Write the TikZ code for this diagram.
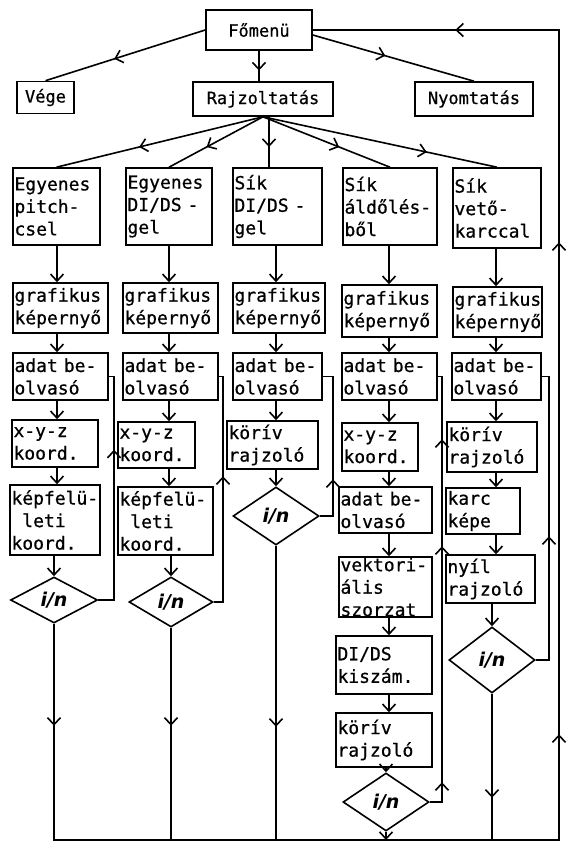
\documentclass[tikz,border=0pt]{standalone}
\usepackage{fontspec}
\newfontfamily\mono[FakeBold=0.7]{DejaVu Sans Mono}
\newfontfamily\handf{DejaVu Sans}
\usetikzlibrary{arrows.meta,shapes.geometric,decorations.markings}

\newcommand\bbox[6]{%
  \pgfmathsetmacro\BXw{#4-#2}%
  \pgfmathsetmacro\BXh{#5-#3}%
  \pgfmathsetmacro\BXt{#4-#2-3}%
  \node[bx,minimum width=\BXw pt,minimum height=\BXh pt,text width=\BXt pt] (#1) at ({(#2+#4)/2},{(#3+#5)/2}) {#6};}

\tikzset{
  >={Straight Barb[length=7pt,width=13pt]},
  bx/.style={draw, rectangle, inner xsep=1.5pt, inner ysep=0pt, align=left,
    font=\mono\fontsize{18}{22.5}\selectfont},
  tb/.style={draw, rectangle, inner sep=0pt, font=\mono\fontsize{17}{20}\selectfont},
  dia/.style={draw, diamond, inner sep=0pt, font=\handf\bfseries\itshape\fontsize{19}{19}\selectfont},
  mid/.style={postaction={decorate},decoration={markings,mark=at position #1 with {\arrow{>}}}},
}

\begin{document}
\begin{tikzpicture}[x=1pt,y=-1pt,line width=1.6pt]
\fill[white] (0,0) rectangle (567,843);
\useasboundingbox (0,0) rectangle (567,843);

% top row
\node[tb,minimum width=106pt,minimum height=40pt] (fomenu) at (259,30) {Főmenü};
\node[tb,minimum width=57pt,minimum height=32pt] (vege) at (45.5,97.5) {Vége};
\node[tb,minimum width=140pt,minimum height=34pt] (rajz) at (263,99) {Rajzoltatás};
\node[tb,minimum width=118pt,minimum height=34pt] (nyom) at (474,99) {Nyomtatás};

% column x coordinates
\coordinate (c1) at (57,0);
\coordinate (c2) at (169,0);
\coordinate (c3) at (276,0);
\coordinate (c3top) at (269,0);
\coordinate (c4) at (389,0);
\coordinate (c5) at (496,0);

% column 1
\bbox{e1}{13}{168}{100}{245}{Egyenes\\pitch-\\csel}
\bbox{g1}{13}{283}{108}{333}{grafikus\\képernyő}
\bbox{a1}{13}{353}{108}{400}{adat~be-\\olvasó}
\bbox{x1}{12}{420}{98}{467}{x-y-z\\koord.}
\bbox{k1}{10}{485}{100}{555}{képfelü-\\\hphantom{k}leti\\koord.}
\node[dia,minimum width=87pt,minimum height=46pt] (d1) at (54,600) {i/n};

% column 2
\bbox{e2}{126}{168}{212}{245}{Egyenes\\DI/DS~-\\gel}
\bbox{g2}{123}{283}{218}{333}{grafikus\\képernyő}
\bbox{a2}{123}{353}{218}{400}{adat~be-\\olvasó}
\bbox{x2}{118}{422}{195}{468}{x-y-z\\koord.}
\bbox{k2}{118}{487}{213}{555}{képfelü-\\\hphantom{k}leti\\koord.}
\node[dia,minimum width=84pt,minimum height=50pt] (d2) at (171,602) {i/n};

% column 3
\bbox{e3}{233}{168}{322}{245}{Sík\\DI/DS~-\\gel}
\bbox{g3}{233}{283}{325}{333}{grafikus\\képernyő}
\bbox{a3}{233}{353}{322}{400}{adat~be-\\olvasó}
\bbox{r3}{227}{421}{318}{469}{körív\\rajzoló}
\node[dia,minimum width=86pt,minimum height=58pt] (d3) at (276,516) {i/n};

% column 4
\bbox{e4}{343}{168}{437}{245}{Sík\\áldőlés-\\ből}
\bbox{g4}{342}{285}{437}{337}{grafikus\\képernyő}
\bbox{a4}{342}{353}{437}{400}{adat~be-\\olvasó}
\bbox{x4}{342}{423}{418}{471}{x-y-z\\koord.}
\bbox{b4}{339}{487}{432}{533}{adat~be-\\olvasó}
\bbox{v4}{339}{557}{432}{617}{vektori-\\ális\\szorzat}
\bbox{s4}{336}{636}{432}{694}{DI/DS\\kiszám.}
\bbox{r4}{336}{713}{432}{767}{körív\\rajzoló}
\node[dia,minimum width=86pt,minimum height=58pt] (d4) at (386,802) {i/n};

% column 5
\bbox{e5}{453}{168}{541}{248}{Sík\\vető-\\karccal}
\bbox{g5}{453}{287}{542}{337}{grafikus\\képernyő}
\bbox{a5}{452}{353}{541}{400}{adat~be-\\olvasó}
\bbox{r5}{447}{422}{537}{472}{körív\\rajzoló}
\bbox{k5}{446}{488}{520}{534}{karc\\képe}
\bbox{n5}{446}{555}{535}{603}{nyíl\\rajzoló}
\node[dia,minimum width=86pt,minimum height=66pt] (d5) at (492,660) {i/n};

% top connectors
\draw[mid=0.57] (fomenu.west) -- (vege.north);
\draw[mid=0.45] ([yshift=-5pt]fomenu.east) -- (nyom.north);
\draw[mid=0.65] (fomenu.south) -- (fomenu.south |- rajz.north);
\draw[mid=0.6] (rajz.south) -- (e1.north);
\draw[mid=0.6] (rajz.south) -- (e2.north);
\draw[mid=0.6] (rajz.south -| c3top) -- (e3.north -| c3top);
\draw[mid=0.6] (rajz.south) -- (e4.north);
\draw[mid=0.7] (rajz.south) -- (e5.north);

% column connectors
\foreach \a/\b/\c in {e1/g1/c1,g1/a1/c1,a1/x1/c1,x1/k1/c1,
  e2/g2/c2,g2/a2/c2,a2/x2/c2,x2/k2/c2,
  e3/g3/c3,g3/a3/c3,a3/r3/c3,
  e4/g4/c4,g4/a4/c4,a4/x4/c4,x4/b4/c4,b4/v4/c4,v4/s4/c4,s4/r4/c4,
  e5/g5/c5,g5/a5/c5,a5/r5/c5,r5/k5/c5,k5/n5/c5}
  \draw[->] (\a.south -| \c) -- (\b.north -| \c);
\foreach \a/\b in {k1/d1,k2/d2,r3/d3,r4/d4,n5/d5}
  \draw[->] (\a.south -| \b.north) -- (\b.north);

% return loops
\coordinate (l1) at (114,376.5);
\coordinate (l2) at (223,376.5);
\coordinate (l3) at (333,376.5);
\coordinate (l4) at (442,376.5);
\coordinate (l5) at (549,376.5);
\draw[mid=166pt] (d1.east) -| (l1) -- (a1.east);
\draw[mid=135pt] (d2.east) -| (l2) -- (a2.east);
\draw[mid=50pt] (d3.east) -| (l3) -- (a3.east);
\draw[postaction={decorate},decoration={markings,
  mark=at position 32pt with {\arrow{>}},
  mark=at position 268pt with {\arrow{>}},
  mark=at position 375pt with {\arrow{>}}}] (d4.east) -| (l4) -- (a4.east);
\draw[mid=137pt] (d5.east) -| (l5) -- (a5.east);

% bottom collector and return to main menu
\coordinate (bl) at (54,840);
\coordinate (br) at (559,840);
\coordinate (tr) at (559,30);
\draw[postaction={decorate},decoration={markings,
  mark=at position 102pt with {\arrow{>}},
  mark=at position 827pt with {\arrow{>}},
  mark=at position 1319pt with {\arrow{>}},
  mark=at position 1635pt with {\arrow{>}}}]
  (d1.south) -- (bl) -- (br) -- (tr) -- (fomenu.east);
\draw[mid=98pt] (d2.south) -- (d2.south |- bl);
\draw[mid=181pt] (d3.south) -- (d3.south |- bl);
\draw[->] (d4.south) -- (d4.south |- bl);
\draw[mid=104pt] (d5.south) -- (d5.south |- bl);
\end{tikzpicture}
\end{document}
